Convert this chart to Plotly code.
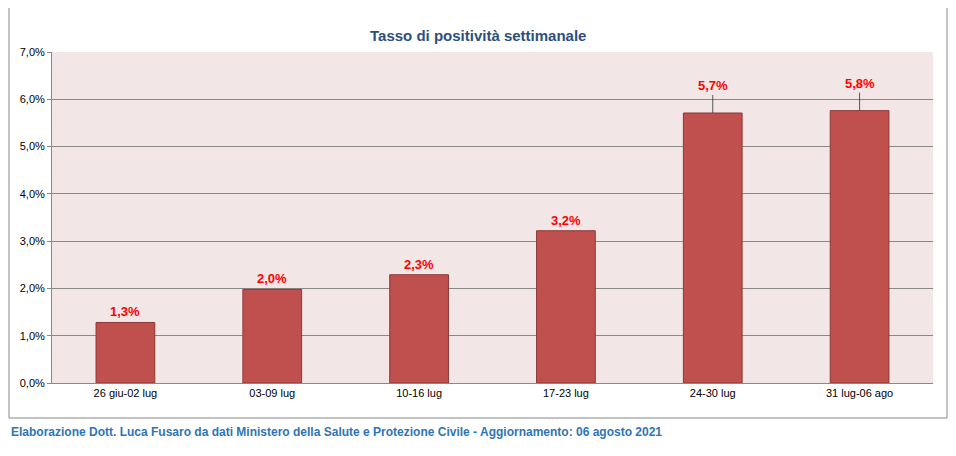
import plotly.graph_objects as go

categories = ["26 giu-02 lug", "03-09 lug", "10-16 lug", "17-23 lug", "24-30 lug", "31 lug-06 ago"]
values = [1.28, 1.98, 2.29, 3.22, 5.71, 5.76]
labels = ["1,3%", "2,0%", "2,3%", "3,2%", "5,7%", "5,8%"]
tick_vals = [0, 1, 2, 3, 4, 5, 6, 7]
tick_text = ["0,0%", "1,0%", "2,0%", "3,0%", "4,0%", "5,0%", "6,0%", "7,0%"]

fig = go.Figure(go.Bar(x=categories, y=values, width=0.4,
                       marker=dict(color="#C0504D", line=dict(color="#8C3836", width=1))))

for i, (c, v, t) in enumerate(zip(categories, values, labels)):
    if i >= 4:
        fig.add_annotation(x=c, y=v, text="<b>" + t + "</b>", showarrow=True, arrowhead=0, arrowwidth=0.8,
                           arrowcolor="#333", ax=0, ay=-18, yanchor="bottom",
                           font=dict(color="red", size=13, family="Liberation Sans"))
    else:
        fig.add_annotation(x=c, y=v, text="<b>" + t + "</b>", showarrow=False, yanchor="bottom", yshift=1,
                           font=dict(color="red", size=13, family="Liberation Sans"))

O = 8
W, H = 956 - O, 456 - O
L, T = 52 - O, 52 - O
R = W - (933 - O)
B = H - (383 - O)
pw, ph = W - L - R, H - T - B
def px(x): return (x - O - L) / pw
def py(y): return (383 - y) / ph

fig.add_shape(type="rect", xref="paper", yref="paper",
              x0=px(9), x1=px(947), y0=py(418), y1=py(6),
              line=dict(color="#888", width=1), fillcolor="rgba(0,0,0,0)")
fig.add_annotation(xref="paper", yref="paper", x=px(478), y=py(25),
                   text="<b>Tasso di positività settimanale</b>", showarrow=False,
                   font=dict(color="#2E4F7E", size=15, family="Liberation Sans"))
fig.add_annotation(xref="paper", yref="paper", x=px(9), y=py(441),
                   xanchor="left", text="<b>Elaborazione Dott. Luca Fusaro da dati Ministero della Salute e Protezione Civile - Aggiornamento: 06 agosto 2021</b>",
                   showarrow=False, font=dict(color="#2E75B6", size=12, family="Liberation Sans"))

fig.update_layout(width=W, height=H, margin=dict(l=L, r=R, t=T, b=B),
                  paper_bgcolor="white", plot_bgcolor="#F2E6E6", showlegend=False,
                  font=dict(family="Liberation Sans", size=11, color="black"))
fig.update_yaxes(range=[0, 7], tickvals=tick_vals, ticktext=tick_text, gridcolor="#888",
                 gridwidth=0.6, showline=True, linecolor="#888", ticks="outside", ticklen=4,
                 tickcolor="#888", zeroline=False)
fig.update_xaxes(showline=True, linecolor="#888", ticks="", mirror=False)
fig.write_html("out.html")
